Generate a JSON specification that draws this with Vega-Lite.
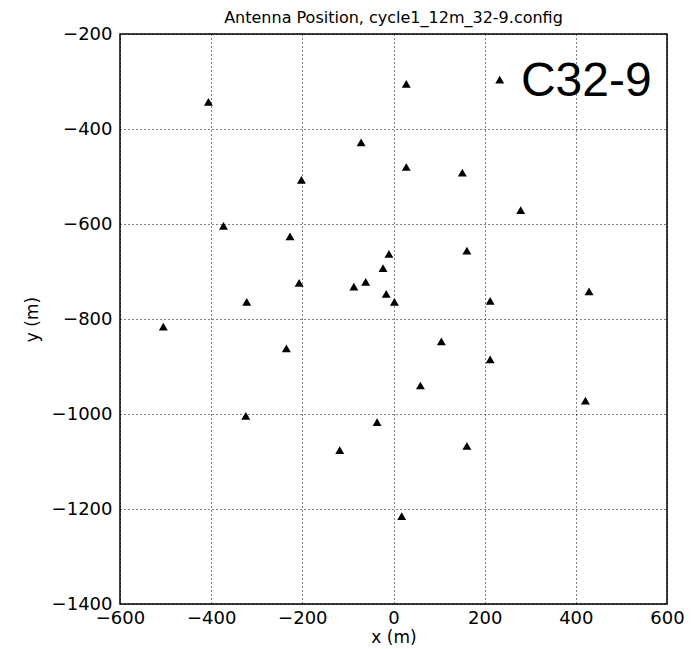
{
  "$schema": "https://vega.github.io/schema/vega-lite/v6.json",
  "autosize": {"type": "none"},
  "padding": {"left": 120, "top": 34, "right": 33, "bottom": 45},
  "width": 547,
  "height": 570,
  "title": {
    "text": "Antenna Position, cycle1_12m_32-9.config",
    "font": "DejaVu Sans",
    "fontSize": 16,
    "fontWeight": "normal",
    "color": "black",
    "offset": -1
  },
  "config": {
    "view": {"stroke": "black", "strokeWidth": 1.5},
    "background": "white"
  },
  "datasets": {
    "antennas": [
      {"x": -406, "y": -343}, {"x": -71, "y": -428}, {"x": -202, "y": -507},
      {"x": -373, "y": -604}, {"x": -227, "y": -626}, {"x": -207, "y": -724},
      {"x": -322, "y": -764}, {"x": -87, "y": -732}, {"x": -61, "y": -722},
      {"x": -10, "y": -663}, {"x": -23, "y": -693}, {"x": -16, "y": -747},
      {"x": 2, "y": -764}, {"x": 28, "y": -305}, {"x": 233, "y": -296},
      {"x": 28, "y": -480}, {"x": 151, "y": -492}, {"x": 279, "y": -571},
      {"x": 161, "y": -656}, {"x": 212, "y": -762}, {"x": 429, "y": -742},
      {"x": -505, "y": -816}, {"x": -235, "y": -862}, {"x": -324, "y": -1004},
      {"x": -36, "y": -1017}, {"x": -118, "y": -1076}, {"x": 105, "y": -847},
      {"x": 212, "y": -885}, {"x": 59, "y": -940}, {"x": 421, "y": -972},
      {"x": 161, "y": -1067}, {"x": 18, "y": -1215}
    ],
    "label": [{"x": 423, "y": -330, "text": "C32-9"}]
  },
  "layer": [
    {
      "data": {"name": "antennas"},
      "mark": {"type": "point", "shape": "triangle-up", "filled": true, "color": "black", "opacity": 1, "size": 80},
      "encoding": {
        "x": {
          "field": "x", "type": "quantitative",
          "scale": {"domain": [-600, 600], "nice": false, "zero": false},
          "axis": {
            "values": [-600, -400, -200, 0, 200, 400, 600],
            "format": "d",
            "title": "x (m)",
            "titleFont": "DejaVu Sans", "titleFontSize": 17, "titleFontWeight": "normal", "titleColor": "black",
            "titlePadding": 2,
            "labelFont": "DejaVu Sans", "labelFontSize": 18, "labelColor": "black", "labelPadding": 5,
            "labelFlush": false,
            "domain": false,
            "ticks": false,
            "grid": true, "gridColor": "black", "gridDash": [1, 3], "gridOpacity": 1, "gridWidth": 1
          }
        },
        "y": {
          "field": "y", "type": "quantitative",
          "scale": {"domain": [-1400, -200], "nice": false, "zero": false},
          "axis": {
            "values": [-1400, -1200, -1000, -800, -600, -400, -200],
            "format": "d",
            "title": "y (m)",
            "titleFont": "DejaVu Sans", "titleFontSize": 17, "titleFontWeight": "normal", "titleColor": "black",
            "titlePadding": 10,
            "labelFont": "DejaVu Sans", "labelFontSize": 18, "labelColor": "black", "labelPadding": 8,
            "labelFlush": false,
            "domain": false,
            "ticks": false,
            "grid": true, "gridColor": "black", "gridDash": [1, 3], "gridOpacity": 1, "gridWidth": 1
          }
        }
      }
    },
    {
      "data": {"name": "label"},
      "mark": {"type": "text", "font": "Liberation Sans", "fontSize": 48, "align": "center", "baseline": "alphabetic", "color": "black"},
      "encoding": {
        "x": {"field": "x", "type": "quantitative"},
        "y": {"field": "y", "type": "quantitative"},
        "text": {"field": "text"}
      }
    }
  ]
}
